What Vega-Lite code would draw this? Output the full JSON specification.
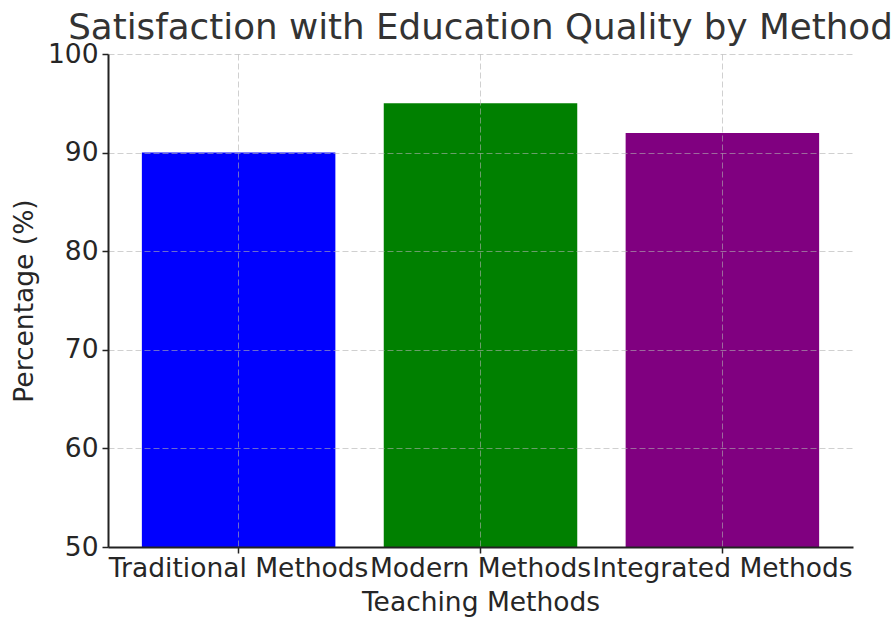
{
  "$schema": "https://vega.github.io/schema/vega-lite/v6.json",
  "autosize": "none",
  "width": 745,
  "height": 493,
  "padding": {"left": 108, "top": 54, "right": 41, "bottom": 70},
  "background": "white",
  "config": {
    "font": "DejaVu Sans",
    "view": {"stroke": null}
  },
  "title": {
    "text": "Satisfaction with Education Quality by Method",
    "fontSize": 35.7,
    "font": "DejaVu Sans",
    "fontWeight": "normal",
    "color": "#333333",
    "anchor": "middle",
    "offset": -6
  },
  "data": {
    "values": [
      {"method": "Traditional Methods", "pct": 90},
      {"method": "Modern Methods", "pct": 95},
      {"method": "Integrated Methods", "pct": 92}
    ]
  },
  "mark": {"type": "bar", "clip": true},
  "encoding": {
    "x": {
      "field": "method",
      "type": "nominal",
      "sort": null,
      "scale": {"paddingInner": 0.2, "paddingOuter": 0.14},
      "axis": {
        "title": "Teaching Methods",
        "labelAngle": 0,
        "labelFontSize": 26.5,
        "labelColor": "#262626",
        "labelOverlap": false,
        "labelBound": false,
        "labelLimit": 0,
        "labelPadding": 2,
        "titleFontSize": 26.5,
        "titleFontWeight": "normal",
        "titleColor": "#262626",
        "titlePadding": 8,
        "bandPosition": 0.5,
        "grid": true,
        "gridColor": "#b0b0b0",
        "gridOpacity": 0.6,
        "gridDash": [6, 3],
        "gridWidth": 1,
        "domainColor": "#222222",
        "domainWidth": 2,
        "tickColor": "#222222",
        "tickWidth": 1.5,
        "tickSize": 6,
        "zindex": 1
      }
    },
    "y": {
      "field": "pct",
      "type": "quantitative",
      "scale": {"domain": [50, 100], "nice": false, "zero": false},
      "axis": {
        "title": "Percentage (%)",
        "values": [50, 60, 70, 80, 90, 100],
        "labelFontSize": 26.5,
        "labelColor": "#262626",
        "labelPadding": 4,
        "titleFontSize": 26.5,
        "titleFontWeight": "normal",
        "titleColor": "#262626",
        "titlePadding": 9,
        "grid": true,
        "gridColor": "#b0b0b0",
        "gridOpacity": 0.6,
        "gridDash": [6, 3],
        "gridWidth": 1,
        "domainColor": "#222222",
        "domainWidth": 2,
        "tickColor": "#222222",
        "tickWidth": 1.5,
        "tickSize": 6,
        "zindex": 1
      }
    },
    "color": {
      "field": "method",
      "type": "nominal",
      "sort": null,
      "scale": {
        "domain": ["Traditional Methods", "Modern Methods", "Integrated Methods"],
        "range": ["#0000ff", "#008000", "#800080"]
      },
      "legend": null
    }
  }
}
